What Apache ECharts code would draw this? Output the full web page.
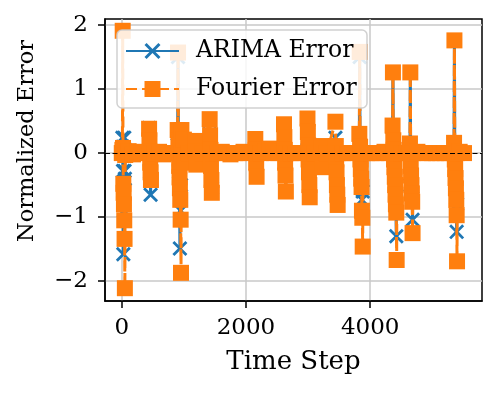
<!DOCTYPE html>
<html>
<head>
<meta charset="utf-8">
<script src="https://cdn.jsdelivr.net/npm/echarts@6/dist/echarts.min.js"></script>
<style>
html, body { margin: 0; padding: 0; background: #fff; }
#container { width: 499px; height: 395px; }
</style>
</head>
<body>
<div id="container"></div>
<script>
// time steps shared by both error series (one row per burst of errors)
var timeSteps = [
  0, 10, 15, 20, 25, 30, 35, 40, 45, 50, 55,
  110, 180, 250, 320, 390,
  440, 446, 452, 458, 464, 470, 475,
  530, 600, 670, 740, 810,
  900, 906, 912, 918, 924, 930, 936, 942, 948, 954, 960, 966,
  1000, 1010, 1080, 1180, 1190, 1200, 1300,
  1415, 1422, 1429, 1436, 1443, 1450, 1455,
  1540, 1610, 1680, 1750, 1820, 1890, 1960, 2030,
  2150, 2157, 2164, 2171, 2176,
  2240, 2310, 2380, 2450, 2520,
  2612, 2618, 2624, 2630, 2636, 2642, 2647,
  2720, 2800, 2870,
  2990, 2996, 3002, 3008, 3014, 3020, 3026, 3031,
  3100, 3220, 3230, 3300,
  3440, 3446, 3452, 3458, 3464, 3470, 3476, 3481,
  3560, 3640, 3710,
  3825, 3831, 3837, 3843, 3849, 3855, 3861, 3867, 3873, 3879, 3884,
  3950, 4020, 4090, 4160, 4230, 4300,
  4360, 4366, 4372, 4378, 4384, 4390, 4396, 4402, 4408, 4414, 4420, 4426, 4431,
  4500, 4580,
  4640, 4646, 4652, 4658, 4664, 4670, 4676, 4682, 4687,
  4760, 4850, 4920, 4990, 5060, 5130, 5200, 5270,
  5350, 5356, 5362, 5368, 5374, 5380, 5386, 5392, 5398, 5403,
  5440, 5510
];

var arimaError = [
  0, 0.24, 0.1, -0.28, -1.58, -0.6, -0.9, 0.24, -0.28, -0.4, 0,
  0, 0, 0, 0, 0,
  0.39, 0.15, -0.1, -0.3, -0.65, -0.2, 0,
  0, 0, 0, 0, 0,
  0.3, 1.5, 0.2, -0.1, -0.3, -0.5, -1.49, -0.7, -0.9, -0.5, 0.3, 0,
  0.2, -0.15, 0, 0.18, 0, -0.15, 0,
  0.5, 0.25, 0, -0.2, -0.4, -0.55, 0,
  0, 0, 0, 0, 0, 0, 0, 0,
  0.2, 0, -0.2, -0.33, 0,
  0, 0, 0, 0, 0,
  0.44, 0.2, 0, -0.15, -0.35, -0.6, 0,
  0, 0, 0,
  0.5, 0.3, 0.1, -0.1, -0.3, -0.5, -0.62, 0,
  0, 0.1, -0.2, 0,
  0.24, 0.1, -0.1, -0.3, -0.5, -0.62, -0.7, 0,
  0, 0, 0,
  0.3, 1.5, 0.1, -0.1, -0.25, -0.4, -0.5, -0.73, -0.9, -0.6, 0,
  0, 0, 0, 0, 0, 0,
  0.4, 1.26, 0.2, 0.05, -0.1, -0.22, -0.37, -0.5, -0.6, -0.75, -1.3, -0.5, 0,
  0, 0,
  0.1, 1.26, -0.2, -0.35, -0.5, -0.6, -0.7, -1.04, 0,
  0, 0, 0, 0, 0, 0, 0, 0,
  0.15, 1.76, 0, -0.25, -0.39, -0.55, -0.7, -1.23, -0.8, 0,
  0, 0
];

var fourierError = [
  0, 0.05, 1.91, 0.08, -0.48, -0.62, -0.8, -1.05, -1.34, -2.11, -0.03,
  0.03, -0.02, 0.02, 0, 0,
  0.38, 0.2, 0.02, -0.15, -0.3, -0.42, 0,
  0, 0.02, -0.02, 0, 0,
  0.36, 1.57, 0.2, 0, -0.2, -0.38, -0.55, -0.73, -1.04, -1.87, 0.36, 0,
  0.21, -0.15, 0, 0.19, 0.02, -0.18, 0,
  0.53, 0.28, 0.05, -0.2, -0.42, -0.62, 0,
  0, 0.02, 0, -0.02, 0, 0, 0.02, 0,
  0.22, 0.05, -0.15, -0.37, 0,
  0, 0.02, 0.07, 0, 0,
  0.45, 0.25, 0.05, -0.15, -0.35, -0.6, 0,
  0, 0, 0,
  0.54, 0.33, 0.12, -0.1, -0.3, -0.5, -0.69, 0,
  0, 0.11, -0.22, 0,
  0.49, 0.11, -0.1, -0.3, -0.5, -0.65, -0.81, 0,
  0, 0, 0,
  0.3, 1.58, 0.1, -0.1, -0.25, -0.4, -0.53, -0.9, -1.01, -1.46, 0,
  0, 0, 0, 0, 0.02, 0,
  0.43, 1.26, 0.2, 0.05, -0.1, -0.22, -0.37, -0.5, -0.65, -0.8, -0.93, -1.67, 0,
  0, 0,
  0.15, 1.26, -0.2, -0.35, -0.5, -0.63, -0.76, -1.25, 0,
  0.02, 0, 0, 0, 0, 0, 0, 0,
  0.16, 1.76, -0.1, -0.25, -0.39, -0.55, -0.73, -0.97, -1.69, 0,
  0.02, 0
];

var xTicks = [0, 2000, 4000];
var yTicks = [-2, -1, 0, 1, 2];

var font = 'DejaVu Serif';
var xMarker = 'path://M0,2.1L2.1,0L8,5.9L13.9,0L16,2.1L10.1,8L16,13.9L13.9,16L8,10.1L2.1,16L0,13.9L5.9,8Z';

function pairs(vals) {
  return timeSteps.map(function (t, i) { return [t, vals[i]]; });
}

var chartDom = document.getElementById('container');
var myChart = echarts.init(chartDom);
var option;

option = {
  animation: false,
  grid: {
    left: 105, top: 19, width: 377, height: 282,
    show: true, borderColor: '#000', borderWidth: 1.5
  },
  legend: {
    z: 110,
    left: 117, top: 30,
    orient: 'vertical',
    padding: [9, 12, 8, 8],
    itemGap: 14,
    itemWidth: 53,
    itemHeight: 20,
    textStyle: { fontFamily: font, fontSize: 23.5, color: '#000', lineHeight: 23, padding: [0, 0, 0, 12] },
    data: ['ARIMA Error', 'Fourier Error']
  },
  xAxis: {
    type: 'value',
    min: -270, max: 5800,
    splitNumber: 3,
    name: 'Time Step',
    nameLocation: 'middle',
    nameGap: 48,
    nameTextStyle: { fontFamily: font, fontSize: 26, color: '#000' },
    axisLine: { show: true, onZero: false, lineStyle: { color: '#000', width: 1.5 } },
    axisTick: { show: true, customValues: xTicks, length: 7, lineStyle: { color: '#000', width: 1.5 } },
    axisLabel: {
      customValues: xTicks, margin: 16, fontFamily: font, fontSize: 23, color: '#000',
      formatter: function (v) { return String(v); }
    },
    splitLine: { show: true, lineStyle: { color: '#c8c8c8', width: 1.5 } }
  },
  yAxis: {
    type: 'value',
    min: -2.31, max: 2.094,
    splitNumber: 4,
    axisLine: { show: true, onZero: false, lineStyle: { color: '#000', width: 1.5 } },
    axisTick: { show: true, customValues: yTicks, length: 7, lineStyle: { color: '#000', width: 1.5 } },
    axisLabel: {
      customValues: yTicks, margin: 17, fontFamily: font, fontSize: 23, color: '#000',
      formatter: function (v) { return v < 0 ? '\u2212' + (-v) : String(v); }
    },
    splitLine: { show: true, lineStyle: { color: '#c8c8c8', width: 1.5 } }
  },
  graphic: [
    {
      // translucent legend frame, drawn above the series
      type: 'rect',
      z: 100,
      silent: true,
      shape: { x: 117, y: 30, width: 250, height: 78, r: 5 },
      style: { fill: 'rgba(255,255,255,0.85)', stroke: 'rgba(204,204,204,0.9)', lineWidth: 1.5 }
    },
    {
      type: 'text',
      x: 27, y: 141,
      rotation: Math.PI / 2,
      style: {
        text: 'Normalized Error',
        font: '22.5px "DejaVu Serif"',
        fill: '#000',
        align: 'center',
        verticalAlign: 'middle'
      }
    }
  ],
  series: [
    {
      name: 'ARIMA Error',
      type: 'line',
      data: pairs(arimaError),
      symbol: xMarker,
      symbolSize: 15,
      z: 2,
      color: '#1f77b4',
      itemStyle: { color: '#1f77b4', borderWidth: 0 },
      lineStyle: { color: '#1f77b4', width: 3 }
    },
    {
      name: 'Fourier Error',
      type: 'line',
      data: pairs(fourierError),
      symbol: 'rect',
      symbolSize: 16,
      z: 3,
      color: '#ff7f0e',
      itemStyle: { color: '#ff7f0e', borderWidth: 0 },
      lineStyle: { color: '#ff7f0e', width: 3, type: [11, 5] },
      markLine: {
        silent: true,
        symbol: ['none', 'none'],
        label: { show: false },
        lineStyle: { color: '#000', type: [5, 2.5], width: 1.2 },
        data: [{ yAxis: 0 }]
      }
    }
  ]
};

option && myChart.setOption(option);
</script>
</body>
</html>
